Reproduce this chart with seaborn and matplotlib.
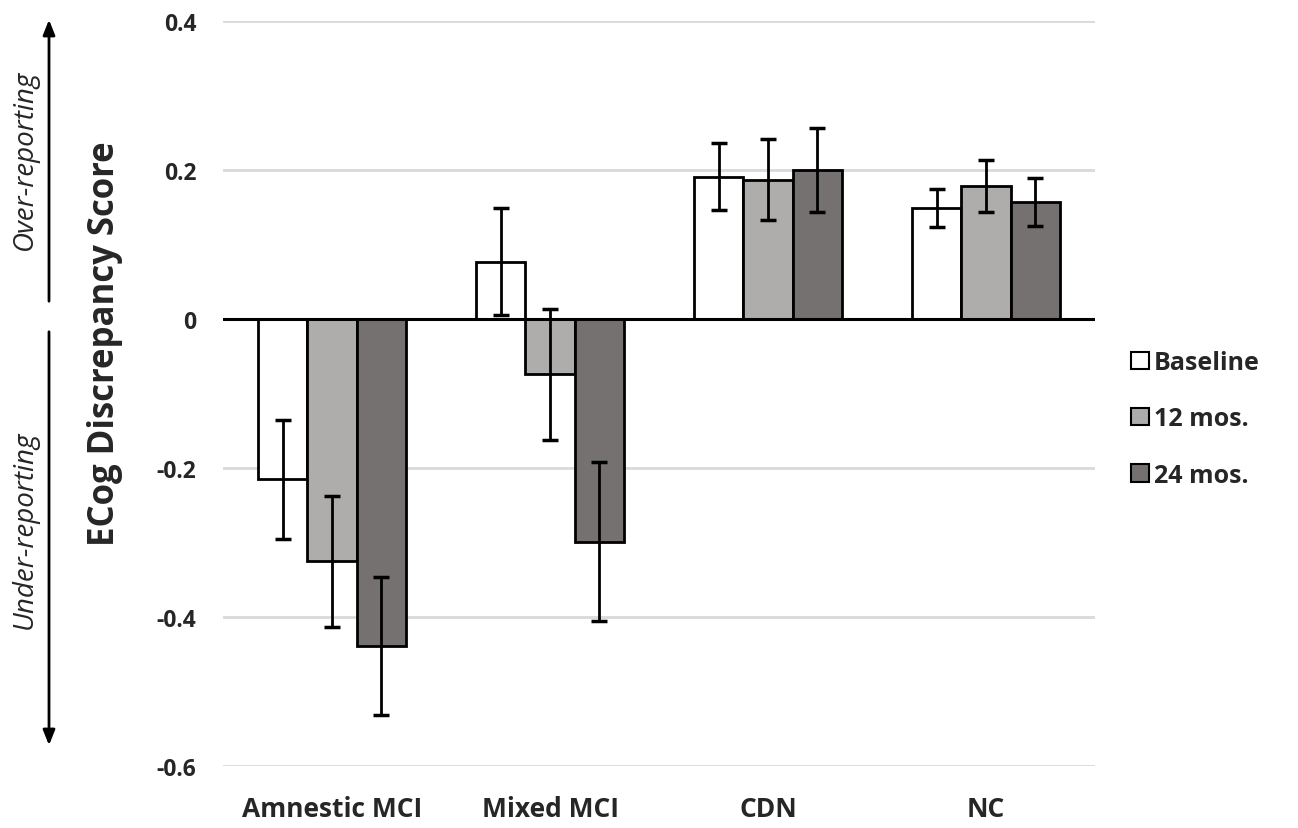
import numpy as np
import pandas as pd
import matplotlib
matplotlib.use("Agg")
import matplotlib.pyplot as plt
import seaborn as sns

categories = ["Amnestic MCI", "Mixed MCI", "CDN", "NC"]
timepoints = ["Baseline", "12 mos.", "24 mos."]
baseline = [-0.215, 0.077, 0.191, 0.149]
mos12 = [-0.325, -0.074, 0.187, 0.178]
mos24 = [-0.439, -0.299, 0.200, 0.157]
err_baseline = [0.080, 0.072, 0.045, 0.026]
err_mos12 = [0.088, 0.088, 0.054, 0.035]
err_mos24 = [0.093, 0.107, 0.056, 0.032]
yticks = [-0.6, -0.4, -0.2, 0, 0.2, 0.4]
ytick_labels = ["-0.6", "-0.4", "-0.2", "0", "0.2", "0.4"]
colors = ["#ffffff", "#b0acab", "#75706f"]

rows = []
for t, vals, errs in zip(timepoints, [baseline, mos12, mos24],
                         [err_baseline, err_mos12, err_mos24]):
    for c, v, e in zip(categories, vals, errs):
        rows.append({"Group": c, "Time": t, "Score": v, "Err": e})
df = pd.DataFrame(rows)

sns.set_theme(style="white")
plt.rcParams["font.family"] = ["Open Sans", "DejaVu Sans"]
plt.rcParams["font.weight"] = "bold"

fig = plt.figure(figsize=(12.98, 8.29), dpi=100)
ax = fig.add_axes([223 / 1298, 1 - 767 / 829, 872 / 1298, 745 / 829])

sns.barplot(data=df, x="Group", y="Score", hue="Time", order=categories,
            hue_order=timepoints, palette=colors, errorbar=None, width=0.68,
            edgecolor="black", linewidth=2, ax=ax, zorder=2)

# error bars located from the drawn bars
err_lookup = {(c, t): e for c, t, e in zip(df.Group, df.Time, df.Err)}
bar_containers = [c for c in ax.containers
                  if isinstance(c, matplotlib.container.BarContainer)]
xs, vals, errs = [], [], []
for hi, cont in enumerate(bar_containers):
    for bar in cont.patches:
        xc = bar.get_x() + bar.get_width() / 2
        ci = int(round(xc))
        xs.append(xc)
        vals.append(bar.get_y() + bar.get_height())
        errs.append(err_lookup[(categories[ci], timepoints[hi])])
ax.errorbar(xs, vals, yerr=errs, fmt="none", ecolor="black",
            elinewidth=2, capsize=5.5, capthick=2.5, zorder=4)

ax.set_ylim(-0.6, 0.4)
ax.set_xlim(-0.5, 3.5)
ax.set_yticks(yticks)
ax.set_yticklabels(ytick_labels)
ax.yaxis.grid(True, color="#d9d9d9", linewidth=2)
ax.set_axisbelow(True)
ax.axhline(0, color="black", linewidth=2.2, zorder=3)
for s in ax.spines.values():
    s.set_visible(False)
ax.tick_params(axis="y", length=0, pad=19, labelsize=16.5)
ax.tick_params(axis="x", length=0, pad=21, labelsize=19)
for lab in ax.get_xticklabels() + ax.get_yticklabels():
    lab.set_fontweight("bold")
ax.set_xlabel("")
ax.set_ylabel("ECog Discrepancy Score", fontsize=25, fontweight="bold")
ax.yaxis.set_label_coords(-0.115, 0.568)

leg = ax.legend(loc="upper left", bbox_to_anchor=(1.027, 0.575), frameon=False,
                fontsize=18, handlelength=0.7, handleheight=0.7,
                handletextpad=0.2, labelspacing=1.25, borderpad=0)
for h in leg.legend_handles:
    h.set_edgecolor("black")
    h.set_linewidth(1.5)
for t in leg.get_texts():
    t.set_fontweight("bold")

# reporting arrows
ax_x = 49 / 1298
fig.add_artist(matplotlib.patches.FancyArrowPatch(
    (ax_x, 1 - 305 / 829), (ax_x, 1 - 18 / 829), transform=fig.transFigure,
    arrowstyle="-|>,head_length=0.45,head_width=0.18", color="black", lw=2,
    mutation_scale=20))
fig.add_artist(matplotlib.patches.FancyArrowPatch(
    (ax_x, 1 - 330 / 829), (ax_x, 1 - 749 / 829), transform=fig.transFigure,
    arrowstyle="-|>,head_length=0.45,head_width=0.18", color="black", lw=2,
    mutation_scale=20))
fig.text(25 / 1298, 1 - 160 / 829, "Over-reporting", rotation=90,
         ha="center", va="center", fontsize=20, style="italic",
         fontweight="normal")
fig.text(25 / 1298, 1 - 530 / 829, "Under-reporting", rotation=90,
         ha="center", va="center", fontsize=20, style="italic",
         fontweight="normal")

fig.savefig("out.png", dpi=100)
